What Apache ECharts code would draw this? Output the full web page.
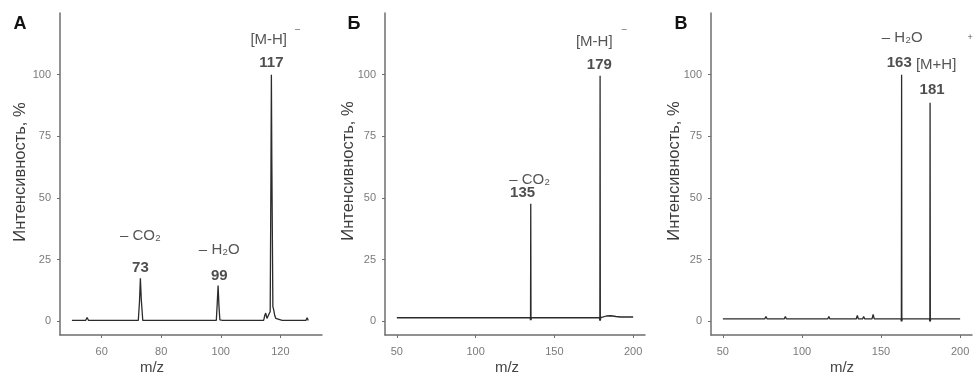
<!DOCTYPE html>
<html>
<head>
<meta charset="utf-8">
<script src="https://cdn.jsdelivr.net/npm/echarts@6/dist/echarts.min.js"></script>
<style>
  html, body { margin: 0; padding: 0; background: #fff; }
  #chart { width: 973px; height: 376px; }
</style>
</head>
<body>
<div id="chart"></div>
<script>
// panel A: m/z and relative intensity
const mzA = [50, 54.6, 55.1, 55.6, 72.3, 72.7, 73.0, 73.3, 73.8, 98.5, 98.8, 99.1, 99.4, 99.7, 100.1, 100.6,
  114.4, 114.8, 115.1, 115.5, 116.0, 116.6, 116.85, 117.0, 117.15, 117.5, 117.8, 118.1, 118.5, 119.0,
  120.6, 121.0, 121.5, 128.6, 129.0, 129.4];
const intA = [0.4, 0.4, 1.6, 0.4, 0.4, 8, 17.5, 9, 0.4, 0.4, 7, 14.5, 6, 0.6, 1.0, 0.4,
  0.4, 2.5, 3.4, 1.2, 0.6, 4, 60, 100, 65, 6, 4.6, 2.5, 1.2, 0.5,
  0.4, 0.8, 0.4, 0.4, 1.5, 0.4];

// panel Б
const mzB = [50, 134.6, 134.85, 135.0, 135.15, 135.4, 178.6, 178.85, 179.0, 179.15, 179.4, 181, 183, 186, 189, 192, 200];
const intB = [1.5, 1.5, 0.5, 47.7, 0.5, 1.5, 1.5, 0.3, 99.6, 0.3, 1.5, 1.8, 2.2, 2.3, 2.0, 1.8, 1.8];

// panel В
const mzC = [50, 76.5, 77.2, 78, 88.8, 89.5, 90.2, 116.3, 117, 117.7, 134.3, 135, 135.7, 138.3, 139, 139.7,
  144.3, 145, 145.7, 162.6, 162.85, 163.0, 163.15, 163.4, 180.6, 180.85, 181.0, 181.15, 181.4, 200];
const intC = [1, 1, 2.0, 1, 1, 2.0, 1, 1, 2.0, 1, 1, 2.4, 1, 1, 2.0, 1,
  1, 2.8, 1, 1, 0, 100, 0, 1, 1, 0, 88.6, 0, 1, 1];

// annotations: [m/z, y, text, style]
const annA = [
  [73, 34.5, '– CO₂', 't'], [73, 21.9, '73', 'n'],
  [99.5, 29.0, '– H₂O', 't'], [99.5, 18.3, '99', 'n'],
  [116.1, 114.2, '[M-H]', 't'], [125.8, 118.3, '–', 's'], [117, 104.9, '117', 'n']
];
const annB = [
  [134.3, 57.4, '– CO₂', 't'], [129.8, 52.1, '135', 'n'],
  [175.3, 113.4, '[M-H]', 't'], [194.3, 118.3, '–', 's'], [178.5, 104, '179', 'n']
];
const annC = [
  [163.4, 115, '– H₂O', 't'], [161.5, 104.9, '163', 'n'],
  [184.8, 104, '[M+H]', 't'], [206.3, 115, '+', 's'], [182.3, 93.9, '181', 'n']
];

const yTicks = [0, 25, 50, 75, 100];
const xTicksA = [60, 80, 100, 120];
const xTicksBC = [50, 100, 150, 200];

const FONT = 'Liberation Sans, Arial, sans-serif';

const grids = [
  { left: 60, top: 13, width: 262, height: 322 },
  { left: 385, top: 13, width: 260, height: 322 },
  { left: 711, top: 13, width: 261, height: 322 }
];

function xAxisOf(i, min, max, ticks) {
  return {
    type: 'value', gridIndex: i, min: min, max: max,
    axisLine: { show: true, onZero: false, lineStyle: { color: '#6e6e6e', width: 1.5 } },
    axisTick: { show: true, length: 3, customValues: ticks, lineStyle: { color: '#6e6e6e' } },
    axisLabel: { customValues: ticks, color: '#7a7a7a', fontSize: 11, fontFamily: FONT, margin: 11 },
    splitLine: { show: false }
  };
}

function yAxisOf(i) {
  return {
    type: 'value', gridIndex: i, min: -5.5, max: 125,
    axisLine: { show: true, onZero: false, lineStyle: { color: '#6e6e6e', width: 1.5 } },
    axisTick: { show: true, length: 3, customValues: yTicks, lineStyle: { color: '#6e6e6e' } },
    axisLabel: { customValues: yTicks, color: '#7a7a7a', fontSize: 11, fontFamily: FONT, margin: 9 },
    splitLine: { show: false }
  };
}

function pairs(xs, ys) {
  return xs.map((x, k) => [x, ys[k]]);
}

function spectrum(i, xs, ys) {
  return {
    type: 'line', xAxisIndex: i, yAxisIndex: i,
    data: pairs(xs, ys),
    showSymbol: false, symbol: 'none', animation: false,
    lineStyle: { color: '#2b2b2b', width: 1.3 }
  };
}

function annotations(i, list) {
  return {
    type: 'scatter', xAxisIndex: i, yAxisIndex: i,
    symbolSize: 0, animation: false, silent: true,
    data: list.map(a => ({ value: [a[0], a[1]], style: a[3], text: a[2] })),
    label: {
      show: true, position: [0, 0], align: 'center', verticalAlign: 'middle',
      formatter: p => '{' + p.data.style + '|' + p.data.text + '}',
      rich: {
        t: { fontSize: 15, color: '#2a2a2a', fontFamily: FONT },
        n: { fontSize: 15, color: '#222', fontFamily: FONT, fontWeight: 'bold' },
        s: { fontSize: 9, color: '#2a2a2a', fontFamily: FONT }
      }
    }
  };
}

const chart = echarts.init(document.getElementById('chart'));
chart.setOption({
  backgroundColor: '#fff',
  animation: false,
  grid: grids,
  xAxis: [
    xAxisOf(0, 46, 134, xTicksA),
    xAxisOf(1, 42.5, 207.5, xTicksBC),
    xAxisOf(2, 42.5, 207.5, xTicksBC)
  ],
  yAxis: [yAxisOf(0), yAxisOf(1), yAxisOf(2)],
  series: [
    spectrum(0, mzA, intA), spectrum(1, mzB, intB), spectrum(2, mzC, intC),
    annotations(0, annA), annotations(1, annB), annotations(2, annC)
  ],
  graphic: [
    { type: 'text', x: 20, y: 24, style: { text: 'A', font: 'bold 18px ' + FONT, fill: '#111', align: 'center', verticalAlign: 'middle' } },
    { type: 'text', x: 354, y: 24, style: { text: 'Б', font: 'bold 18px ' + FONT, fill: '#111', align: 'center', verticalAlign: 'middle' } },
    { type: 'text', x: 681, y: 24, style: { text: 'В', font: 'bold 18px ' + FONT, fill: '#111', align: 'center', verticalAlign: 'middle' } },
    { type: 'text', x: 152, y: 368, style: { text: 'm/z', font: '15px ' + FONT, fill: '#444', align: 'center', verticalAlign: 'middle' } },
    { type: 'text', x: 507, y: 368, style: { text: 'm/z', font: '15px ' + FONT, fill: '#444', align: 'center', verticalAlign: 'middle' } },
    { type: 'text', x: 842, y: 368, style: { text: 'm/z', font: '15px ' + FONT, fill: '#444', align: 'center', verticalAlign: 'middle' } },
    { type: 'text', x: 20, y: 172, rotation: Math.PI / 2, style: { text: 'Интенсивность, %', font: '16.5px ' + FONT, fill: '#3a3a3a', align: 'center', verticalAlign: 'middle' } },
    { type: 'text', x: 348, y: 171, rotation: Math.PI / 2, style: { text: 'Интенсивность, %', font: '16.5px ' + FONT, fill: '#3a3a3a', align: 'center', verticalAlign: 'middle' } },
    { type: 'text', x: 674, y: 171, rotation: Math.PI / 2, style: { text: 'Интенсивность, %', font: '16.5px ' + FONT, fill: '#3a3a3a', align: 'center', verticalAlign: 'middle' } }
  ]
});
</script>
</body>
</html>
